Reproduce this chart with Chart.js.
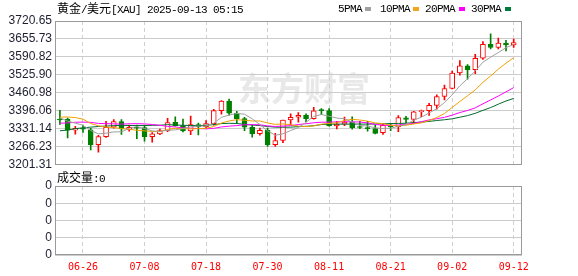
<!DOCTYPE html>
<html><head><meta charset="utf-8">
<script src="https://cdn.jsdelivr.net/npm/chart.js@4"></script>
<style>
html,body{margin:0;padding:0;background:#fff;width:578px;height:276px;overflow:hidden}
#wrap{position:relative;width:578px;height:276px}
canvas{position:absolute;left:0}
.t{position:absolute;font-family:"Liberation Mono",monospace;font-size:11px;letter-spacing:-0.6px;color:#000;white-space:nowrap;line-height:12px;z-index:2}
.t .c{font-family:"Noto Sans CJK SC";font-size:12px;letter-spacing:0}
.sq{position:absolute;width:6px;height:4px;z-index:2}
</style></head>
<body><div id="wrap">
<canvas id="main" width="578" height="175" style="top:0"></canvas>
<canvas id="vol" width="578" height="101" style="top:175px"></canvas>
<div class="t" style="left:57px;top:2px"><span class="c">黄金</span>/<span class="c">美元</span>[XAU] 2025-09-13 05:15</div>
<div class="t" style="left:338px;top:3px">5PMA</div><div class="sq" style="left:365px;top:7px;background:#a0a0a0"></div>
<div class="t" style="left:380px;top:3px">10PMA</div><div class="sq" style="left:413px;top:7px;background:#f5a31c"></div>
<div class="t" style="left:425px;top:3px">20PMA</div><div class="sq" style="left:459px;top:7px;background:#ff00ff"></div>
<div class="t" style="left:471px;top:3px">30PMA</div><div class="sq" style="left:505px;top:7px;background:#007a3d"></div>
<div class="t" style="left:57px;top:171px"><span class="c">成交量</span>:0</div>
</div>
<script>
const dates = ['06-23','06-24','06-25','06-26','06-27','06-30','07-01','07-02','07-03','07-04',
'07-07','07-08','07-09','07-10','07-11','07-14','07-15','07-16','07-17','07-18',
'07-21','07-22','07-23','07-24','07-25','07-28','07-29','07-30','07-31','08-01',
'08-04','08-05','08-06','08-07','08-08','08-11','08-12','08-13','08-14','08-15',
'08-18','08-19','08-20','08-21','08-22','08-25','08-26','08-27','08-28','08-29',
'09-01','09-02','09-03','09-04','09-05','09-08','09-09','09-10','09-11','09-12'];
const openP = [3366,3366,3326,3333,3328,3274,3303,3337,3357,3328, 3337,3336,3303,3313,3325,3355,3343,3324,3347,3339,
3350,3397,3431,3388,3368,3337,3314,3326,3274,3289, 3363,3373,3380,3368,3399,3397,3342,3348,3356,3337,
3336,3332,3317,3345,3339,3371,3365,3393,3397,3416, 3448,3477,3533,3559,3545,3586,3636,3625,3641,3634];
const highP = [3398,3370,3340,3345,3333,3308,3358,3365,3365,3345, 3345,3345,3318,3330,3369,3375,3366,3377,3352,3361,
3402,3433,3439,3394,3373,3345,3334,3334,3315,3363, 3385,3390,3385,3409,3404,3404,3358,3374,3375,3358,
3358,3346,3350,3351,3379,3376,3394,3399,3423,3454, 3489,3540,3578,3563,3600,3646,3674,3659,3651,3655];
const lowP = [3347,3298,3312,3318,3255,3247,3300,3334,3311,3323, 3296,3287,3283,3310,3321,3341,3320,3310,3309,3333,
3344,3384,3381,3351,3325,3301,3308,3268,3268,3281, 3345,3355,3357,3366,3382,3341,3331,3343,3330,3332,
3323,3313,3311,3325,3321,3352,3351,3375,3380,3402, 3436,3475,3525,3511,3530,3582,3620,3620,3613,3625];
const closeP = [3363,3326,3333,3330,3274,3303,3337,3357,3331,3337, 3334,3303,3313,3325,3354,3343,3324,3347,3339,3350,
3397,3431,3388,3368,3337,3314,3326,3274,3289,3363, 3373,3380,3368,3396,3397,3342,3348,3356,3335,3336,
3332,3315,3344,3339,3372,3365,3393,3397,3416,3448, 3477,3533,3559,3545,3586,3636,3625,3641,3634,3643];
const ma5 = [3371.4,3359.0,3351.8,3344.0,3325.2,3313.2,3315.4,3320.2,3320.4,3333.0,
3339.2,3332.4,3323.6,3322.4,3325.8,3327.6,3331.8,3338.6,3341.4,3340.6,
3351.4,3372.8,3381.0,3386.8,3384.2,3367.6,3346.6,3323.8,3308.0,3313.2,
3325.0,3335.8,3354.6,3376.0,3382.8,3376.6,3370.2,3367.8,3355.6,3343.4,
3341.4,3334.8,3332.4,3333.2,3340.4,3347.0,3362.6,3373.2,3388.6,3403.8,
3426.2,3454.2,3486.6,3512.4,3540.0,3571.8,3590.2,3606.6,3624.4,3635.8];
const ma10 = [3373.6,3374.0,3371.9,3366.3,3350.5,3342.3,3337.2,3336.0,3332.2,3329.1,
3326.2,3323.9,3321.9,3321.4,3329.4,3333.4,3332.1,3331.1,3331.9,3333.2,
3339.5,3352.3,3359.8,3364.1,3362.4,3359.5,3359.7,3352.4,3347.4,3348.7,
3346.3,3341.2,3339.2,3342.0,3348.0,3350.8,3353.0,3361.2,3365.8,3363.1,
3359.0,3352.5,3350.1,3344.4,3341.9,3344.2,3348.7,3352.8,3360.9,3372.1,
3386.6,3408.4,3429.9,3450.5,3471.9,3499.0,3522.2,3546.6,3568.4,3587.9];
const ma20 = [3351.4,3352.7,3354.9,3355.5,3354.7,3350.8,3350.0,3349.2,3348.2,3349.5,
3349.9,3349.0,3346.9,3343.9,3340.0,3337.9,3334.7,3333.6,3332.1,3331.2,
3332.9,3338.1,3340.9,3342.8,3345.9,3346.5,3345.9,3341.8,3339.7,3341.0,
3342.9,3346.8,3349.5,3353.1,3355.2,3355.2,3356.4,3356.8,3356.6,3355.9,
3352.7,3346.9,3344.7,3343.2,3345.0,3347.5,3350.9,3357.0,3363.4,3367.6,
3372.8,3380.5,3390.0,3397.5,3406.9,3421.6,3435.5,3449.7,3464.7,3480.0];
const ma30 = [3324.2,3326.7,3331.9,3334.9,3337.3,3339.7,3341.3,3342.7,3343.9,3343.2,
3343.0,3343.1,3343.9,3344.1,3346.3,3345.0,3344.0,3343.2,3342.7,3344.1,
3346.4,3350.1,3351.2,3350.6,3347.4,3345.1,3343.0,3339.8,3337.2,3337.0,
3337.3,3339.1,3340.3,3342.5,3346.6,3347.9,3348.3,3348.2,3348.4,3348.3,
3348.3,3348.7,3349.7,3350.2,3350.8,3351.5,3353.8,3355.5,3358.0,3361.3,
3364.0,3367.4,3373.1,3379.0,3387.3,3398.0,3408.0,3420.2,3431.7,3441.0];
const volumes = [0,0,0,0,0,0,0,0,0,0, 0,0,0,0,0,0,0,0,0,0, 0,0,0,0,0,0,0,0,0,0,
0,0,0,0,0,0,0,0,0,0, 0,0,0,0,0,0,0,0,0,0, 0,0,0,0,0,0,0,0,0,0];
const yTickLabels = ['3720.65','3655.73','3590.82','3525.90','3460.98','3396.06','3331.14','3266.23','3201.31'];
const xTickLabels = ['06-26','07-08','07-18','07-30','08-11','08-21','09-02','09-12'];
const volTickValues = [0,1,2,3,4];
const volTickLabels = ['0','0','0','0','0'];

const RED = '#ff0000', GREEN = '#008000';
const up = i => closeP[i] >= openP[i];
const xTickIdx = xTickLabels.map(l => dates.indexOf(l));
const yTickVals = yTickLabels.map(Number).sort((a,b)=>a-b);
const X_MIN = -0.64, X_MAX = 60.08;
const labelColor = '#1e1e30';

const frame = {
  id:'frame',
  beforeDraw(c, args, opts){
    if(!opts.watermark) return;
    const ctx = c.ctx;
    ctx.save();
    ctx.fillStyle = '#e8e8e8';
    ctx.font = 'bold 33px "Noto Sans CJK SC"';
    ctx.textBaseline = 'middle';
    ctx.fillText('东方财富', 238, 88);
    ctx.restore();
  },
  afterDraw(c){
    const a = c.chartArea, ctx = c.ctx;
    ctx.save();
    ctx.strokeStyle = '#9a9a9a';
    ctx.lineWidth = 1;
    const l = Math.round(a.left)+0.5, t = Math.round(a.top)+0.5;
    const r = Math.round(a.right)-0.5, b = Math.round(a.bottom)-0.5;
    ctx.strokeRect(l, t, r-l, b-t);
    ctx.restore();
  }
};

const lineDs = (label, arr, color) => ({
  type:'line', label, data: arr.map((v,i)=>({x:i,y:v})),
  borderColor: color, borderWidth:1, pointRadius:0, tension:0, order:0
});

const xScale = (showLabels) => ({
  type:'linear', min:X_MIN, max:X_MAX, offset:false,
  afterBuildTicks: s => { s.ticks = xTickIdx.map(v=>({value:v})); },
  ticks: showLabels
    ? {callback:(v,i)=>xTickLabels[i], color:'#ff0000', font:{family:'"DejaVu Sans Mono", monospace', size:10}, padding:6, autoSkip:false, maxRotation:0}
    : {display:false},
  grid:{color:'#d0d0d0', drawTicks:false, offset:false},
  border:{display:false, dash:[4,3]},
  afterFit: s => { s.height = showLabels ? 21 : 0; }
});

new Chart(document.getElementById('main'), {
  data:{ datasets:[
    lineDs('5PMA', ma5, '#a0a0a0'),
    lineDs('10PMA', ma10, '#f0a000'),
    lineDs('20PMA', ma20, '#ff00ff'),
    lineDs('30PMA', ma30, '#006b2e'),
    {type:'bar', label:'body', data: openP.map((o,i)=>({x:i,y:[o,closeP[i]]})),
     backgroundColor: c => up(c.dataIndex) ? '#ffffff' : GREEN,
     borderColor: c => up(c.dataIndex) ? RED : GREEN,
     borderWidth:1, borderSkipped:false, barThickness:5, minBarLength:1, grouped:false, order:1},
    {type:'bar', label:'wick', data: lowP.map((l,i)=>({x:i,y:[l,highP[i]]})),
     backgroundColor: c => up(c.dataIndex) ? RED : GREEN,
     borderWidth:0, barThickness:1, grouped:false, order:2}
  ]},
  options:{
    responsive:false, animation:false, devicePixelRatio:1,
    layout:{padding:{left:0,right:56,top:21,bottom:10}},
    plugins:{legend:{display:false}, tooltip:{enabled:false}, frame:{watermark:true}},
    scales:{
      x: xScale(false),
      y:{min:yTickVals[0], max:yTickVals[yTickVals.length-1],
         afterBuildTicks: s => { s.ticks = yTickVals.map(v=>({value:v})); },
         ticks:{callback: v => yTickLabels.find(l => Number(l) === v), font:{family:'"Liberation Sans", Arial, sans-serif', size:12}, color:labelColor, padding:3, autoSkip:false},
         grid:{color:'#cccccc', drawTicks:false}, border:{display:false},
         afterFit: s => { s.width = 55; }}
    }
  },
  plugins:[frame]
});

new Chart(document.getElementById('vol'), {
  data:{ datasets:[
    {type:'line', label:'成交量', data: volumes.map((v,i)=>({x:i,y:v})), borderColor:'rgba(0,0,0,0)', borderWidth:0, pointRadius:0}
  ]},
  options:{
    responsive:false, animation:false, devicePixelRatio:1,
    layout:{padding:{left:0,right:56,top:11,bottom:0}},
    plugins:{legend:{display:false}, tooltip:{enabled:false}, frame:{watermark:false}},
    scales:{
      x: xScale(true),
      y:{type:'linear', min:0, max:4,
         afterBuildTicks: s => { s.ticks = volTickValues.map(v=>({value:v})); },
         ticks:{callback:(v,i)=>volTickLabels[i], font:{family:'"Liberation Sans", Arial, sans-serif', size:12}, color:labelColor, padding:3, autoSkip:false},
         grid:{color:'#cccccc', drawTicks:false}, border:{display:false},
         afterFit: s => { s.width = 55; }}
    }
  },
  plugins:[frame]
});
</script>
</body></html>
